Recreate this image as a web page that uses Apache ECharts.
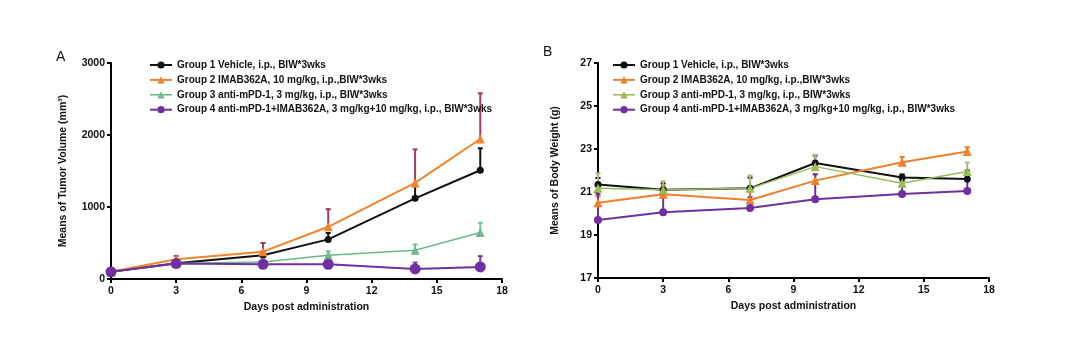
<!DOCTYPE html>
<html>
<head>
<meta charset="utf-8">
<script src="https://cdn.jsdelivr.net/npm/echarts@6/dist/echarts.min.js"></script>
<style>
html,body{margin:0;padding:0;background:#fff;}
#chart{width:1080px;height:345px;}
</style>
</head>
<body>
<div id="chart"></div>
<script>
// ---------- data ----------
const days = [0, 3, 7, 10, 14, 17];
const groupNames = [
  'Group 1 Vehicle, i.p., BIW*3wks',
  'Group 2 IMAB362A, 10 mg/kg, i.p.,BIW*3wks',
  'Group 3 anti-mPD-1, 3 mg/kg, i.p., BIW*3wks',
  'Group 4 anti-mPD-1+IMAB362A, 3 mg/kg+10 mg/kg, i.p., BIW*3wks'
];
// Panel A: tumor volume (mm3) means and upper error
const tumorG1 = [100, 220, 330, 550, 1120, 1510];
const tumorG2 = [100, 275, 380, 725, 1335, 1945];
const tumorG3 = [100, 215, 235, 330, 400, 645];
const tumorG4 = [100, 215, 205, 205, 140, 167];
const tumorErrG1 = [10, 40, 50, 90, 170, 305];
const tumorErrG2 = [10, 45, 120, 245, 465, 635];
const tumorErrG3 = [10, 25, 25, 55, 80, 135];
const tumorErrG4 = [10, 25, 25, 25, 88, 150];
// Panel B: body weight (g) means and upper error
const weightG1 = [21.35, 21.1, 21.17, 22.35, 21.67, 21.6];
const weightG2 = [20.5, 20.9, 20.63, 21.53, 22.38, 22.88];
const weightG3 = [21.17, 21.1, 21.17, 22.18, 21.41, 21.95];
const weightG4 = [19.7, 20.06, 20.26, 20.66, 20.91, 21.05];
const weightErrG1 = [0.3, 0.3, 0.5, 0.35, 0.15, 0.4];
const weightErrG2 = [0.3, 0.4, 0.4, 0.3, 0.25, 0.2];
const weightErrG3 = [0.7, 0.4, 0.6, 0.55, 0.3, 0.42];
const weightErrG4 = [1.2, 1.1, 0.5, 1.16, 0.6, 0.45];
const xTicks = [0, 18, 3];
const tumorTicks = [0, 3000, 1000];
const weightTicks = [17, 27, 2];

// ---------- styles ----------
const FONT = '"Liberation Sans", Arial, sans-serif';
const colorsA = ['#111111', '#f0852d', '#6fb88a', '#7030a0'];
const errColorsA = ['#111111', '#a33a5c', '#7cc0a0', '#7a3aa0'];
const colorsB = ['#111111', '#ee7f2d', '#9bbb59', '#7030a0'];
const errColorsB = ['#111111', '#e07b30', '#b5b58c', '#7030a0'];
const symbolsA = [['circle', 7], ['triangle', 9], ['triangle', 9], ['circle', 11]];
const symbolsB = [['circle', 7], ['triangle', 9], ['triangle', 9], ['circle', 8]];
const widths = [2, 2, 1.5, 2];

const pairs = (ys) => days.map((d, i) => [d, ys[i]]);
const errPairs = (ys, es) => days.map((d, i) => [d, ys[i], ys[i] + es[i]]);

function errSeries(idx, data, color, z) {
  return {
    type: 'custom', xAxisIndex: idx, yAxisIndex: idx, z: z, silent: true,
    data: data,
    renderItem: function (params, api) {
      const p0 = api.coord([api.value(0), api.value(1)]);
      const p1 = api.coord([api.value(0), api.value(2)]);
      const w = 2.5;
      return {
        type: 'group',
        children: [
          { type: 'line', shape: { x1: p0[0], y1: p0[1], x2: p1[0], y2: p1[1] }, style: { stroke: color, lineWidth: 2 } },
          { type: 'line', shape: { x1: p1[0] - w, y1: p1[1], x2: p1[0] + w, y2: p1[1] }, style: { stroke: color, lineWidth: 2 } }
        ]
      };
    }
  };
}

function lineSeries(idx, name, data, color, sym, width) {
  return {
    type: 'line', name: name, xAxisIndex: idx, yAxisIndex: idx, z: 3,
    data: data, symbol: sym[0], symbolSize: sym[1], showSymbol: true,
    lineStyle: { color: color, width: width }, itemStyle: { color: color, borderWidth: 0 },
    animation: false
  };
}

const tumorMeans = [tumorG1, tumorG2, tumorG3, tumorG4];
const tumorErrs = [tumorErrG1, tumorErrG2, tumorErrG3, tumorErrG4];
const weightMeans = [weightG1, weightG2, weightG3, weightG4];
const weightErrs = [weightErrG1, weightErrG2, weightErrG3, weightErrG4];

const series = [];
for (let i = 0; i < 4; i++) {
  series.push(errSeries(0, errPairs(tumorMeans[i], tumorErrs[i]), errColorsA[i], 1));
  series.push(errSeries(1, errPairs(weightMeans[i], weightErrs[i]), errColorsB[i], 1));
}
for (let i = 0; i < 4; i++) {
  series.push(lineSeries(0, groupNames[i], pairs(tumorMeans[i]), colorsA[i], symbolsA[i], widths[i]));
}
for (let i = 0; i < 4; i++) {
  series.push(lineSeries(1, groupNames[i], pairs(weightMeans[i]), colorsB[i], symbolsB[i], widths[i]));
}

const axisLabel = { color: '#111', fontFamily: FONT, fontWeight: 'bold', fontSize: 10.5, formatter: (v) => String(v) };
const axisCommon = {
  axisLine: { show: true, onZero: false, lineStyle: { color: '#000', width: 2 } },
  axisTick: { show: true, inside: false, length: 4, lineStyle: { color: '#000', width: 2 } },
  splitLine: { show: false },
  nameTextStyle: { color: '#111', fontFamily: FONT, fontWeight: 'bold', fontSize: 10.5 }
};

function xAxis(idx) {
  return Object.assign({}, axisCommon, {
    type: 'value', gridIndex: idx, min: xTicks[0], max: xTicks[1], interval: xTicks[2],
    name: 'Days post administration', nameLocation: 'middle', nameGap: 21,
    axisLabel: Object.assign({}, axisLabel, { margin: 7 })
  });
}
function yAxis(idx, ticks, name, gap) {
  return Object.assign({}, axisCommon, {
    type: 'value', gridIndex: idx, min: ticks[0], max: ticks[1], interval: ticks[2],
    name: name, nameLocation: 'middle', nameGap: gap,
    axisLabel: Object.assign({}, axisLabel, { margin: 6 })
  });
}

function legend(left, colors) {
  return {
    orient: 'vertical', left: left, top: 60, padding: 0,
    itemWidth: 22, itemHeight: 9, itemGap: 4.9,
    selectedMode: false,
    textStyle: { color: '#111', fontFamily: FONT, fontWeight: 'bold', fontSize: 10 },
    data: groupNames.map((n, i) => ({
      name: n,
      itemStyle: { color: colors[i] }, lineStyle: { color: colors[i], width: widths[i] }
    }))
  };
}

const chart = echarts.init(document.getElementById('chart'), null, { renderer: 'canvas' });
chart.setOption({
  animation: false,
  backgroundColor: '#fff',
  grid: [
    { left: 111, top: 63, width: 391, height: 216 },
    { left: 598, top: 63, width: 391, height: 215 }
  ],
  xAxis: [xAxis(0), xAxis(1)],
  yAxis: [
    yAxis(0, tumorTicks, 'Means of Tumor Volume (mm³)', 42),
    yAxis(1, weightTicks, 'Means of Body Weight (g)', 37)
  ],
  legend: [legend(149, colorsA), legend(612, colorsB)],
  graphic: [
    { type: 'text', left: 56, top: 50, style: { text: 'A', font: '14px ' + FONT, fill: '#111' } },
    { type: 'text', left: 543, top: 45, style: { text: 'B', font: '14px ' + FONT, fill: '#111' } }
  ],
  series: series
});
</script>
</body>
</html>
